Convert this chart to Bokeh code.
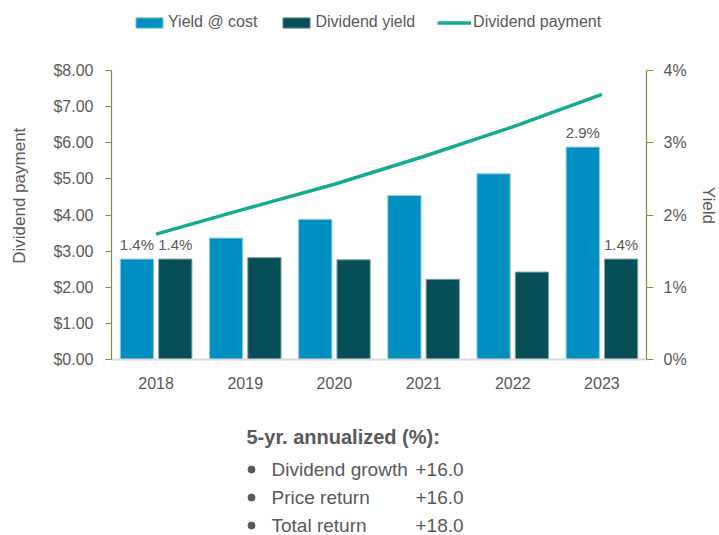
import math
from bokeh.plotting import figure
from bokeh.layouts import column, row
from bokeh.models import (ColumnDataSource, FactorRange, Range1d, LinearAxis, FixedTicker,
                          NumeralTickFormatter, PrintfTickFormatter, Legend, LegendItem,
                          LabelSet)
from bokeh.transform import dodge
from bokeh.core.properties import value
from bokeh.embed import file_html
from bokeh.resources import INLINE

# ---------------- data ----------------
years = ["2018", "2019", "2020", "2021", "2022", "2023"]
yield_at_cost = [1.39, 1.68, 1.94, 2.27, 2.57, 2.94]      # % (right axis)
dividend_yield = [1.39, 1.41, 1.38, 1.11, 1.21, 1.39]     # % (right axis)
dividend_payment = [3.47, 4.17, 4.85, 5.62, 6.44, 7.34]   # $ (left axis)
payment_ticks = [0, 1, 2, 3, 4, 5, 6, 7, 8]
yield_ticks = [0, 1, 2, 3, 4]
labeled_years_yoc = ["2018", "2023"]
labeled_years_dy = ["2018", "2023"]
series_names = ["Yield @ cost", "Dividend yield", "Dividend payment"]
left_title = "Dividend payment"
right_title = "Yield"
summary_title = "5-yr. annualized (%):"
summary_labels = ["Dividend growth", "Price return", "Total return"]
summary_values = ["+16.0", "+16.0", "+18.0"]

# ---------------- style ----------------
FONT = "Liberation Sans"
GREY = "#595959"
C_YOC = "#008FC0"
C_DY = "#074F57"
C_PAY = "#14AB94"
AX_GREEN = "#77933C"

W = 719
TOP_H, MAIN_H, BOT_H = 45, 360, 130
LT_W, RT_W = 40, 30
MAIN_W = W - LT_W - RT_W


def blank(width, height, xr, yr):
    f = figure(width=width, height=height, output_backend="svg", toolbar_location=None,
               x_range=Range1d(*xr), y_range=Range1d(*yr), x_axis_type=None, y_axis_type=None,
               min_border=0, min_border_left=0, min_border_right=0, min_border_top=0,
               min_border_bottom=0)
    f.outline_line_color = None
    f.xgrid.visible = False
    f.ygrid.visible = False
    return f


# ---------------- main chart ----------------
p = figure(width=MAIN_W, height=MAIN_H, output_backend="svg", toolbar_location=None,
           x_range=FactorRange(*years, range_padding=0),
           y_range=Range1d(0, 8),
           min_border_left=111 - LT_W, min_border_right=(W - RT_W) - 646,
           min_border_top=70 - TOP_H, min_border_bottom=(TOP_H + MAIN_H) - 359)
p.extra_y_ranges = {"yield": Range1d(0, 4)}
p.outline_line_color = None
p.xgrid.visible = False
p.ygrid.visible = False

src = ColumnDataSource(dict(year=years, yoc=yield_at_cost, dy=dividend_yield, pay=dividend_payment))

p.vbar(x=dodge("year", -0.215, range=p.x_range), top="yoc", width=0.373, source=src,
       y_range_name="yield", fill_color=C_YOC, line_color="#8CCDE3", line_width=1)
p.vbar(x=dodge("year", 0.215, range=p.x_range), top="dy", width=0.373, source=src,
       y_range_name="yield", fill_color=C_DY, line_color="#7FA3A7", line_width=1)
p.line(x="year", y="pay", source=src, line_color=C_PAY, line_width=3.5)

# data labels
yoc_lab = ColumnDataSource(dict(
    x=labeled_years_yoc,
    y=[yield_at_cost[years.index(y)] for y in labeled_years_yoc],
    t=["%.1f%%" % yield_at_cost[years.index(y)] for y in labeled_years_yoc]))
dy_lab = ColumnDataSource(dict(
    x=labeled_years_dy,
    y=[dividend_yield[years.index(y)] for y in labeled_years_dy],
    t=["%.1f%%" % dividend_yield[years.index(y)] for y in labeled_years_dy]))
for s, off in ((yoc_lab, -0.215), (dy_lab, 0.215)):
    p.add_layout(LabelSet(x=dodge("x", off, range=p.x_range), y="y", text="t", source=s,
                          y_range_name="yield", text_align="center", text_baseline="bottom",
                          y_offset=6, text_font=value(FONT), text_font_size=value("15px"),
                          text_color=GREY))

# axes
xa = p.xaxis[0]
xa.axis_line_color = "#D9D9D9"
xa.axis_line_width = 2
xa.major_tick_line_color = None
xa.minor_tick_line_color = None
xa.major_label_text_font = FONT
xa.major_label_text_font_size = "16px"
xa.major_label_text_color = GREY
xa.major_label_standoff = 11

ya = p.yaxis[0]
ya.ticker = FixedTicker(ticks=payment_ticks)
ya.formatter = NumeralTickFormatter(format="$0.00")
ya.axis_line_color = AX_GREEN
ya.axis_line_width = 1.2
ya.major_tick_line_color = AX_GREEN
ya.major_tick_out = 6
ya.major_tick_in = 0
ya.minor_tick_line_color = None
ya.major_label_text_font = FONT
ya.major_label_text_font_size = "16px"
ya.major_label_text_color = GREY
ya.major_label_standoff = 12

yr = LinearAxis(y_range_name="yield", ticker=FixedTicker(ticks=yield_ticks),
                formatter=PrintfTickFormatter(format="%d%%"))
yr.axis_line_color = AX_GREEN
yr.axis_line_width = 1.2
yr.major_tick_line_color = AX_GREEN
yr.major_tick_out = 7
yr.major_tick_in = 0
yr.minor_tick_line_color = None
yr.major_label_text_font = FONT
yr.major_label_text_font_size = "16px"
yr.major_label_text_color = GREY
yr.major_label_standoff = 10
p.add_layout(yr, "right")

# ---------------- axis titles (side strips) ----------------
lt = blank(LT_W, MAIN_H, (0, LT_W), (0, MAIN_H))
lt.text(x=[19], y=[(TOP_H + MAIN_H) - 201], text=[left_title], angle=math.pi / 2,
        text_align="center", text_baseline="middle", text_font=value(FONT),
        text_font_size="17px", text_color=GREY)
rt = blank(RT_W, MAIN_H, (0, RT_W), (0, MAIN_H))
rt.text(x=[708 - (W - RT_W)], y=[(TOP_H + MAIN_H) - 213], text=[right_title], angle=-math.pi / 2,
        text_align="center", text_baseline="middle", text_font=value(FONT),
        text_font_size="17px", text_color=GREY)

# ---------------- legend strip ----------------
top = blank(W, TOP_H, (0, W), (0, TOP_H))
# legend proxies: one point placed outside the visible strip so only the legend shows them
proxy = ColumnDataSource(dict(x=[-100, -90], y=[-100, -100]))
g1 = top.vbar(x="x", top="y", width=1, source=proxy, fill_color=C_YOC, line_color="#8CCDE3")
g2 = top.vbar(x="x", top="y", width=1, source=proxy, fill_color=C_DY, line_color="#7FA3A7")
g3 = top.line(x="x", y="y", source=proxy, line_color=C_PAY, line_width=3.5)
legend = Legend(items=[LegendItem(label=series_names[0], renderers=[g1], index=0),
                       LegendItem(label=series_names[1], renderers=[g2], index=0),
                       LegendItem(label=series_names[2], renderers=[g3])],
                orientation="horizontal", location=(132, 13), border_line_color=None,
                background_fill_alpha=0, padding=0, margin=0, spacing=22,
                glyph_width=34, glyph_height=13, label_standoff=2, label_height=20,
                label_text_font=FONT, label_text_font_size="16px", label_text_color=GREY)
top.add_layout(legend)

# ---------------- summary strip ----------------
bot = blank(W, BOT_H, (0, W), (0, BOT_H))
base = TOP_H + MAIN_H + BOT_H
bot.text(x=[246], y=[base - 436], text=[summary_title], text_align="left",
         text_baseline="middle", text_font=value(FONT), text_font_size="20px",
         text_font_style="bold", text_color=GREY)
line_y = [base - 469, base - 497, base - 525]
bot.scatter(x=[251] * len(summary_labels), y=line_y, size=7, fill_color=GREY, line_color=GREY)
bot.text(x=[271] * len(summary_labels), y=line_y, text=summary_labels, text_align="left",
         text_baseline="middle", text_font=value(FONT), text_font_size="19px", text_color=GREY)
bot.text(x=[415] * len(summary_values), y=line_y, text=summary_values, text_align="left",
         text_baseline="middle", text_font=value(FONT), text_font_size="19px", text_color=GREY)

layout = column(top, row(lt, p, rt), bot)
open("out.html", "w").write(file_html(layout, INLINE))
